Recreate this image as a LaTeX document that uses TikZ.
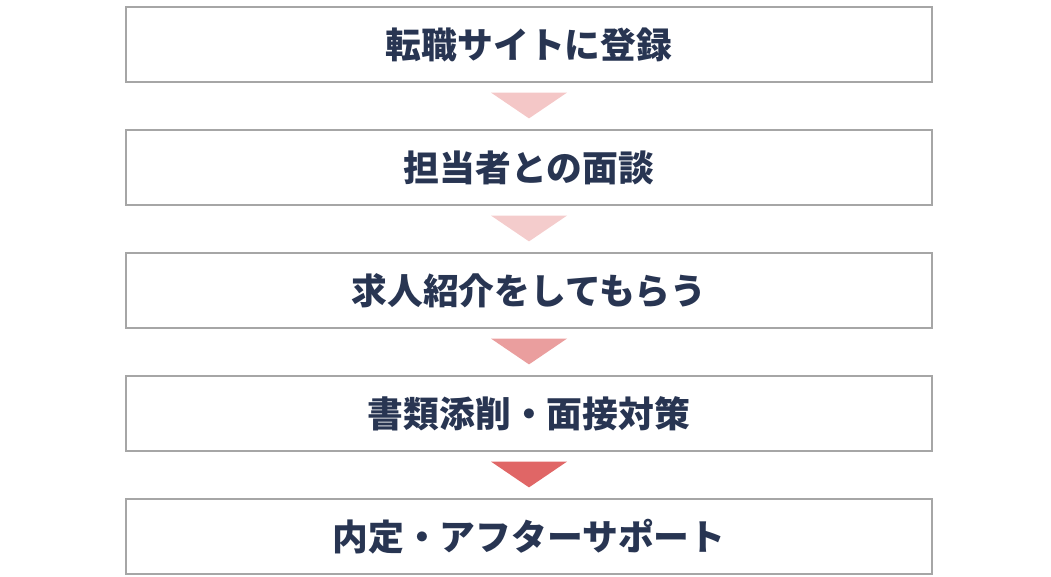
\documentclass[tikz,border=0pt]{standalone}
\usepackage{fontspec}
\newfontfamily\jpfont{Noto Sans CJK JP}
\usepackage{tikz}
\usetikzlibrary{calc}

\definecolor{textnavy}{HTML}{283552}
\definecolor{boxgray}{HTML}{A6A6A6}
\definecolor{rosaA}{HTML}{F4C7C7}
\definecolor{rosaB}{HTML}{F4CCCC}
\definecolor{rosaC}{HTML}{EA9E9E}
\definecolor{rosaD}{HTML}{E06666}

\tikzset{
  paso/.style={draw=boxgray, line width=1.2pt, fill=white, minimum width=806pt,
    minimum height=75pt, inner sep=0pt, text=textnavy,
    font=\jpfont\bfseries\fontsize{35.8}{40}\selectfont},
}

\begin{document}
\begin{tikzpicture}[x=1pt,y=-1pt]
\useasboundingbox (0,0) rectangle (1051,577);

%cajas de los pasos
\node[paso] (p1) at (529,44.5) {転職サイトに登録};
\node[paso] (p2) at (529,167.5) {担当者との面談};
\node[paso] (p3) at (529,290.5) {求人紹介をしてもらう};
\node[paso] (p4) at (529,413.5) {書類添削・面接対策};
\node[paso] (p5) at (529,536.5) {内定・アフターサポート};

%flechas triangulares entre cajas
\foreach \a/\b/\c in {p1/p2/rosaA,p2/p3/rosaB,p3/p4/rosaC,p4/p5/rosaD}
	\fill[\c] ($(\a.south)+(-38,10)$) -- ($(\a.south)+(38,10)$) -- ($(\b.north)+(0,-11)$) -- cycle;
\end{tikzpicture}
\end{document}
